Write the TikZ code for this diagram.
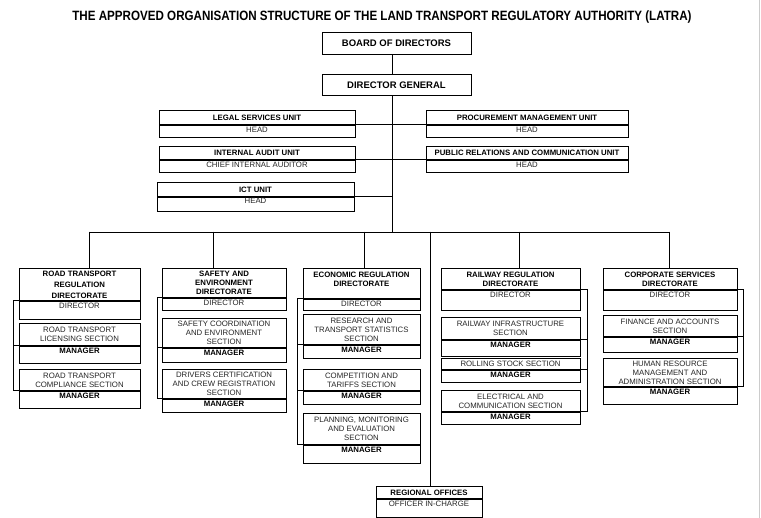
\documentclass[tikz,border=0pt]{standalone}
\usepackage{fontspec}
\setmainfont{Liberation Sans}
\newfontfamily\titlefont[FakeStretch=0.86]{Liberation Sans}
\usetikzlibrary{positioning}

\begin{document}
\begin{tikzpicture}[
  x=1pt, y=-1pt,
  line cap=rect, line join=miter,
  every node/.style={inner xsep=1pt, inner ysep=0pt},
  box/.style={
    draw, line width=0.9pt, align=center, anchor=north,
    font=\fontsize{7.8}{9}\selectfont
  },
  hd/.style={box, font=\fontsize{7.8}{9}\selectfont\bfseries},
  sect/.style={box, text=black!85},
  role/.style={box, text height=5.6pt, inner ysep=1.5pt, text depth=#1, text=black!85},
  mgr/.style={role=#1, font=\fontsize{7.8}{9}\selectfont\bfseries, text=black},
  link/.style={line width=0.9pt},
  unitcol/.style={minimum width=196pt},
  proccol/.style={minimum width=202pt},
  roadcol/.style={minimum width=121pt},
  safecol/.style={minimum width=124pt},
  econcol/.style={minimum width=117pt},
  railcol/.style={minimum width=139pt},
  corpcol/.style={minimum width=134pt}
]
\useasboundingbox (0,0) rectangle (761,518);

% =========================================================================
% Title, board and director general
% =========================================================================
\node[font=\titlefont\bfseries\fontsize{13.5}{15}\selectfont] (title) at (382,17)
  {THE APPROVED ORGANISATION STRUCTURE OF THE LAND TRANSPORT REGULATORY AUTHORITY (LATRA)};

\node[hd, minimum width=149pt, minimum height=22pt, font=\fontsize{9.5}{11}\selectfont\bfseries]
  (board) at (396.5,32) {BOARD OF DIRECTORS};
\node[hd, minimum width=149pt, minimum height=21pt, font=\fontsize{9.5}{11}\selectfont\bfseries]
  (dg) at (396.5,74) {DIRECTOR GENERAL};

% =========================================================================
% Units under the director general
% =========================================================================
\node[hd, unitcol, minimum height=14pt] (legalT) at (257,110) {LEGAL SERVICES UNIT};
\node[role=3.5pt, unitcol] (legalR) at (legalT.south) {HEAD};

\node[hd, proccol, minimum height=14pt] (procT) at (527,110) {PROCUREMENT MANAGEMENT UNIT};
\node[role=3.5pt, proccol] (procR) at (procT.south) {HEAD};

\node[hd, unitcol, minimum height=13pt] (auditT) at (257,146) {INTERNAL AUDIT UNIT};
\node[role=3.5pt, unitcol] (auditR) at (auditT.south) {CHIEF INTERNAL AUDITOR};

\node[hd, proccol, minimum height=13pt] (prT) at (527,146) {PUBLIC RELATIONS AND COMMUNICATION UNIT};
\node[role=3.5pt, proccol] (prR) at (prT.south) {HEAD};

\node[hd, minimum width=197pt, minimum height=14pt] (ictT) at (255.5,182) {ICT UNIT};
\node[role=5.5pt, minimum width=197pt, inner ysep=0.5pt, text depth=7.5pt] (ictR) at (ictT.south) {HEAD};

% =========================================================================
% Directorates
% =========================================================================
% Road transport regulation
\node[hd, roadcol, minimum height=32pt] (roadT) at (79.5,268) {ROAD TRANSPORT\\[2pt]REGULATION\\[2pt]DIRECTORATE};
\node[role=9.5pt, roadcol] (roadR) at (roadT.south) {DIRECTOR};
\node[sect, roadcol, minimum height=22pt] (licT) at (79.5,323) {ROAD TRANSPORT\\LICENSING SECTION};
\node[mgr=8.5pt, roadcol] (licR) at (licT.south) {MANAGER};
\node[sect, roadcol, minimum height=21pt] (complT) at (79.5,369) {ROAD TRANSPORT\\COMPLIANCE SECTION};
\node[mgr=8.5pt, roadcol] (complR) at (complT.south) {MANAGER};

% Safety and environment
\node[hd, safecol, minimum height=29pt] (safeT) at (224,268) {SAFETY AND\\ENVIRONMENT\\DIRECTORATE};
\node[role=3.5pt, safecol] (safeR) at (safeT.south) {DIRECTOR};
\node[sect, safecol, minimum height=29pt] (coordT) at (224,318) {SAFETY COORDINATION\\AND ENVIRONMENT\\SECTION};
\node[mgr=5.5pt, safecol] (coordR) at (coordT.south) {MANAGER};
\node[sect, safecol, minimum height=29pt] (drivT) at (224,369) {DRIVERS CERTIFICATION\\AND CREW REGISTRATION\\SECTION};
\node[mgr=4.5pt, safecol] (drivR) at (drivT.south) {MANAGER};

% Economic regulation
\node[hd, econcol, minimum height=30pt, text depth=8pt] (econT) at (361.5,268) {ECONOMIC REGULATION\\DIRECTORATE};
\node[role=2.5pt, econcol] (econR) at (econT.south) {DIRECTOR};
\node[sect, econcol, minimum height=30pt] (resT) at (361.5,314) {RESEARCH AND\\TRANSPORT STATISTICS\\SECTION};
\node[mgr=4.5pt, econcol] (resR) at (resT.south) {MANAGER};
\node[sect, econcol, minimum height=21pt] (compeT) at (361.5,369) {COMPETITION AND\\TARIFFS SECTION};
\node[mgr=4.5pt, econcol] (compeR) at (compeT.south) {MANAGER};
\node[sect, econcol, minimum height=31pt] (planT) at (361.5,413) {PLANNING, MONITORING\\AND EVALUATION\\SECTION};
\node[mgr=9.5pt, econcol] (planR) at (planT.south) {MANAGER};

% Railway regulation
\node[hd, railcol, minimum height=21pt] (railT) at (510.5,268) {RAILWAY REGULATION\\DIRECTORATE};
\node[role=11.5pt, railcol] (railR) at (railT.south) {DIRECTOR};
\node[sect, railcol, minimum height=22pt] (infraT) at (510.5,317) {RAILWAY INFRASTRUCTURE\\SECTION};
\node[mgr=7.5pt, railcol] (infraR) at (infraT.south) {MANAGER};
\node[sect, railcol, minimum height=11pt] (rollT) at (510.5,358) {ROLLING STOCK SECTION};
\node[mgr=3.5pt, railcol] (rollR) at (rollT.south) {MANAGER};
\node[sect, railcol, minimum height=21pt] (elecT) at (510.5,390) {ELECTRICAL AND\\COMMUNICATION SECTION};
\node[mgr=3.5pt, railcol] (elecR) at (elecT.south) {MANAGER};

% Corporate services
\node[hd, corpcol, minimum height=21pt] (corpT) at (670,268) {CORPORATE SERVICES\\DIRECTORATE};
\node[role=11.5pt, corpcol] (corpR) at (corpT.south) {DIRECTOR};
\node[sect, corpcol, minimum height=21pt] (finT) at (670,315) {FINANCE AND ACCOUNTS\\SECTION};
\node[mgr=6.5pt, corpcol] (finR) at (finT.south) {MANAGER};
\node[sect, corpcol, minimum height=28pt] (hrT) at (670,358) {HUMAN RESOURCE\\MANAGEMENT AND\\ADMINISTRATION SECTION};
\node[mgr=8.5pt, corpcol] (hrR) at (hrT.south) {MANAGER};

% Regional offices
\node[hd, minimum width=106pt, minimum height=12pt] (regT) at (429,486) {REGIONAL OFFICES};
\node[role=9.5pt, minimum width=106pt] (regR) at (regT.south) {OFFICER IN-CHARGE};

% =========================================================================
% Connectors
% =========================================================================
\coordinate (trunk) at (392,0);
\coordinate (busL) at (89,232);
\coordinate (busR) at (669,232);
\coordinate (dropSafe) at (213,232);
\coordinate (dropEcon) at (364,232);
\coordinate (dropReg) at (430,232);
\coordinate (dropRail) at (519,232);

\draw[link] (board.south -| trunk) -- (dg.north -| trunk);
\draw[link] (dg.south -| trunk) -- (trunk |- busL);
\draw[link] (legalT.south east) -- (procT.south west);
\draw[link] (auditT.south east) -- (prT.south west);
\draw[link] (ictT.south east) -- (ictT.south east -| trunk);

% bus and drops
\draw[link] (busL) -- (busR);
\draw[link] (busL) -- (busL |- roadT.north);
\draw[link] (dropSafe) -- (dropSafe |- safeT.north);
\draw[link] (dropEcon) -- (dropEcon |- econT.north);
\draw[link] (dropRail) -- (dropRail |- railT.north);
\draw[link] (busR) -- (busR |- corpT.north);
\draw[link] (dropReg) -- (dropReg |- regT.north);

% spines to the sections
\coordinate (roadSp) at (13,0);
\draw[link] (roadT.south west) -- (roadT.south west -| roadSp) -- (complT.south west -| roadSp) -- (complT.south west);
\draw[link] (licT.south west -| roadSp) -- (licT.south west);

\coordinate (safeSp) at (157,0);
\draw[link] (safeT.south west) -- (safeT.south west -| safeSp) -- (drivT.south west -| safeSp) -- (drivT.south west);
\draw[link] (coordT.south west -| safeSp) -- (coordT.south west);

\coordinate (econSp) at (297,0);
\draw[link] (econT.south west) -- (econT.south west -| econSp) -- (planT.south west -| econSp) -- (planT.south west);
\draw[link] (resT.south west -| econSp) -- (resT.south west);
\draw[link] (compeT.south west -| econSp) -- (compeT.south west);

\coordinate (railSp) at (587,0);
\draw[link] (railT.south east) -- (railT.south east -| railSp) -- (elecT.south east -| railSp) -- (elecT.south east);
\draw[link] (infraT.south east -| railSp) -- (infraT.south east);
\draw[link] (rollT.south east -| railSp) -- (rollT.south east);

\coordinate (corpSp) at (743,0);
\draw[link] (corpT.south east) -- (corpT.south east -| corpSp) -- (hrT.south east -| corpSp) -- (hrT.south east);
\draw[link] (finT.south east -| corpSp) -- (finT.south east);

% page edge
\draw[black!20, line width=1pt] (759,0) -- (759,518);

\end{tikzpicture}
\end{document}
